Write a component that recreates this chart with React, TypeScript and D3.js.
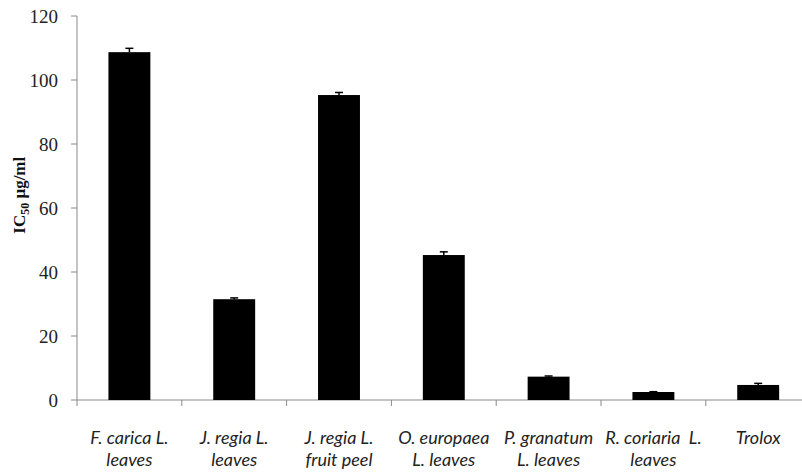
import React from "react";
import * as d3 from "d3";

const categories: string[][] = [
  ["F. carica L.", "leaves"],
  ["J. regia L.", "leaves"],
  ["J. regia L.", "fruit peel"],
  ["O. europaea", "L. leaves"],
  ["P. granatum", "L. leaves"],
  ["R. coriaria  L.", "leaves"],
  ["Trolox"],
];
const values: number[] = [108.7, 31.5, 95.3, 45.3, 7.3, 2.5, 4.7];
const errors: number[] = [1.2, 0.4, 0.8, 1.0, 0.2, 0.1, 0.5];
const yTicks: number[] = [0, 20, 40, 60, 80, 100, 120];

const W = 802;
const H = 473;
const left = 77;
const bandW = 104.8;
const x = d3
  .scaleBand<number>()
  .domain(d3.range(categories.length))
  .range([left, left + bandW * categories.length])
  .paddingInner(0.6)
  .paddingOuter(0.3);
const y = d3.scaleLinear().domain([0, 120]).range([400, 16]);
const axisColor = "#8a8a8a";

export default function App() {
  const bw = x.bandwidth();
  return (
    <svg
      width={W}
      height={H}
      style={{ position: "absolute", left: 0, top: 0, background: "#fff" }}
    >
      {/* y axis */}
      <line x1={left} x2={left} y1={y(120)} y2={y(0)} stroke={axisColor} strokeWidth={1} />
      {yTicks.map((t) => (
        <g key={t}>
          <line x1={left - 6} x2={left} y1={y(t)} y2={y(t)} stroke={axisColor} strokeWidth={1} />
          <text
            x={left - 19}
            y={y(t)}
            dy="0.35em"
            textAnchor="end"
            fontFamily="'Liberation Serif', serif"
            fontSize={19}
            fill="#222"
          >
            {t}
          </text>
        </g>
      ))}
      {/* x axis */}
      <line x1={left} x2={W} y1={y(0)} y2={y(0)} stroke={axisColor} strokeWidth={1} />
      {d3.range(categories.length + 1).map((i) => (
        <line
          key={i}
          x1={left + i * bandW}
          x2={left + i * bandW}
          y1={y(0)}
          y2={y(0) + 6}
          stroke={axisColor}
          strokeWidth={1}
        />
      ))}
      {/* bars */}
      {values.map((v, i) => {
        const cx = (x(i) as number) + bw / 2;
        return (
          <g key={i}>
            <rect x={x(i)} y={y(v)} width={bw} height={y(0) - y(v)} fill="#000" />
            <line x1={cx} x2={cx} y1={y(v)} y2={y(v + errors[i])} stroke="#000" strokeWidth={1.5} />
            <line x1={cx - 4} x2={cx + 4} y1={y(v + errors[i])} y2={y(v + errors[i])} stroke="#000" strokeWidth={1.5} />
          </g>
        );
      })}
      {/* category labels */}
      {categories.map((lines, i) => {
        const cx = left + (i + 0.5) * bandW;
        return (
          <text
            key={i}
            x={cx}
            textAnchor="middle"
            fontFamily="Lato, 'Open Sans', sans-serif"
            fontStyle="italic"
            fontWeight={400}
            fontSize={18}
            fill="#222"
            style={{ whiteSpace: "pre" }}
          >
            {lines.map((l, j) => (
              <tspan key={j} x={cx} y={444 + j * 22}>
                {l}
              </tspan>
            ))}
          </text>
        );
      })}
      {/* y label */}
      <text
        transform={`translate(25,${y(64)}) rotate(-90)`}
        textAnchor="middle"
        fontFamily="'Liberation Serif', serif"
        fontSize={17}
        fontWeight="bold"
        fill="#111"
      >
        IC
        <tspan fontSize={12} dy={4}>50</tspan>
        <tspan dy={-4}> μg/ml</tspan>
      </text>
    </svg>
  );
}
